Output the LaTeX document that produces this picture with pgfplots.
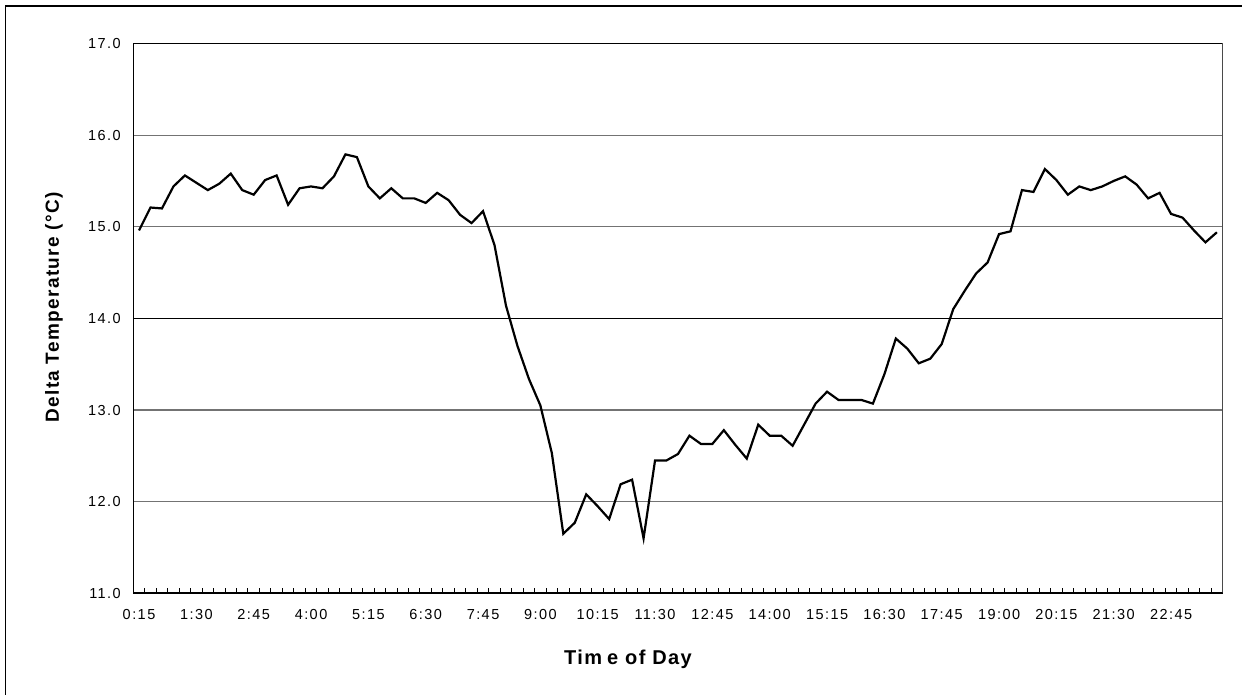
\documentclass[border=0pt]{standalone}
\usepackage{fontspec}
\setmainfont{Liberation Sans}
\newfontfamily\tickfont[LetterSpace=10]{Liberation Sans}
\newfontfamily\labelfont[LetterSpace=7]{Liberation Sans}
\usepackage{pgfplots}
\usepackage{pgfplotstable}
\pgfplotsset{compat=1.18}

% delta temperature, one value every 15 min from 0:15 to 23:45
\pgfplotstableread{
i  dt
0  14.96
1  15.21
2  15.20
3  15.44
4  15.56
5  15.48
6  15.40
7  15.47
8  15.58
9  15.40
10 15.35
11 15.51
12 15.56
13 15.24
14 15.42
15 15.44
16 15.42
17 15.55
18 15.79
19 15.76
20 15.44
21 15.31
22 15.42
23 15.31
24 15.31
25 15.26
26 15.37
27 15.29
28 15.13
29 15.04
30 15.17
31 14.80
32 14.14
33 13.70
34 13.34
35 13.05
36 12.53
37 11.65
38 11.77
39 12.08
40 11.95
41 11.81
42 12.19
43 12.24
44 11.60
45 12.45
46 12.45
47 12.52
48 12.72
49 12.63
50 12.63
51 12.78
52 12.62
53 12.47
54 12.84
55 12.72
56 12.72
57 12.61
58 12.84
59 13.07
60 13.20
61 13.11
62 13.11
63 13.11
64 13.07
65 13.39
66 13.78
67 13.67
68 13.51
69 13.56
70 13.72
71 14.10
72 14.30
73 14.49
74 14.61
75 14.92
76 14.95
77 15.40
78 15.38
79 15.63
80 15.51
81 15.35
82 15.44
83 15.40
84 15.44
85 15.50
86 15.55
87 15.46
88 15.31
89 15.37
90 15.14
91 15.10
92 14.96
93 14.83
94 14.94
}\dttable

\begin{document}
\begin{tikzpicture}
\useasboundingbox (0,0) rectangle (1242bp,695bp);
% outer chart frame (only left and top edges fall inside the image)
\draw[line width=1.3bp] (5.7bp,-10bp) -- (5.7bp,689bp) -- (1260bp,689bp);
\begin{axis}[
    at={(133.3bp,101.7bp)}, anchor=south west,
    scale only axis,
    width=1089.4bp, height=549.8bp,
    xmin=-0.5, xmax=94.5,
    ymin=11, ymax=17,
    xtick={0,5,...,90},
    xticklabels={0:15,1:30,2:45,4:00,5:15,6:30,7:45,9:00,10:15,11:30,12:45,14:00,15:15,16:30,17:45,19:00,20:15,21:30,22:45},
    minor xtick={-0.5,0.5,...,94.5},
    ytick={11,12,...,17},
    major tick length=0pt,
    minor tick length=5bp,
    tick align=inside,
    xtick pos=bottom, ytick pos=left,
    tick style={black, line width=1bp},
    ymajorgrids,
    major grid style={black!55, line width=1.2bp},
    axis line style={black, line width=1.3bp},
    /pgf/number format/assume math mode=true,
    yticklabel style={/pgf/number format/fixed, /pgf/number format/fixed zerofill,
        /pgf/number format/precision=1, xshift=-9bp},
    tick label style={font=\tickfont\fontsize{14.5bp}{16bp}\selectfont},
    xticklabel style={yshift=-13bp},
    xlabel={Tim\hspace{5bp}e of Day},
    xlabel style={at={(axis description cs:0.4541,0)}, anchor=base, yshift=-70.7bp,
        font=\labelfont\bfseries\fontsize{20bp}{23bp}\selectfont},
    ylabel={Delta Temperature (°C)},
    ylabel style={at={(axis description cs:-0.0728,0.52)}, anchor=center,
        font=\labelfont\bfseries\fontsize{19bp}{22bp}\selectfont},
]
\addplot[black, line width=2.2bp, mark=none] table[x=i, y=dt] {\dttable};
% the 14.0 gridline renders darker in the reference
\draw[black, line width=1bp] (rel axis cs:0,0.5) -- (rel axis cs:1,0.5);
\draw[black!55, line width=1.3bp] (rel axis cs:1,0) -- (rel axis cs:1,1);
\draw[black, line width=2bp] (rel axis cs:0,0) -- (rel axis cs:1,0);
\end{axis}
\end{tikzpicture}
\end{document}
